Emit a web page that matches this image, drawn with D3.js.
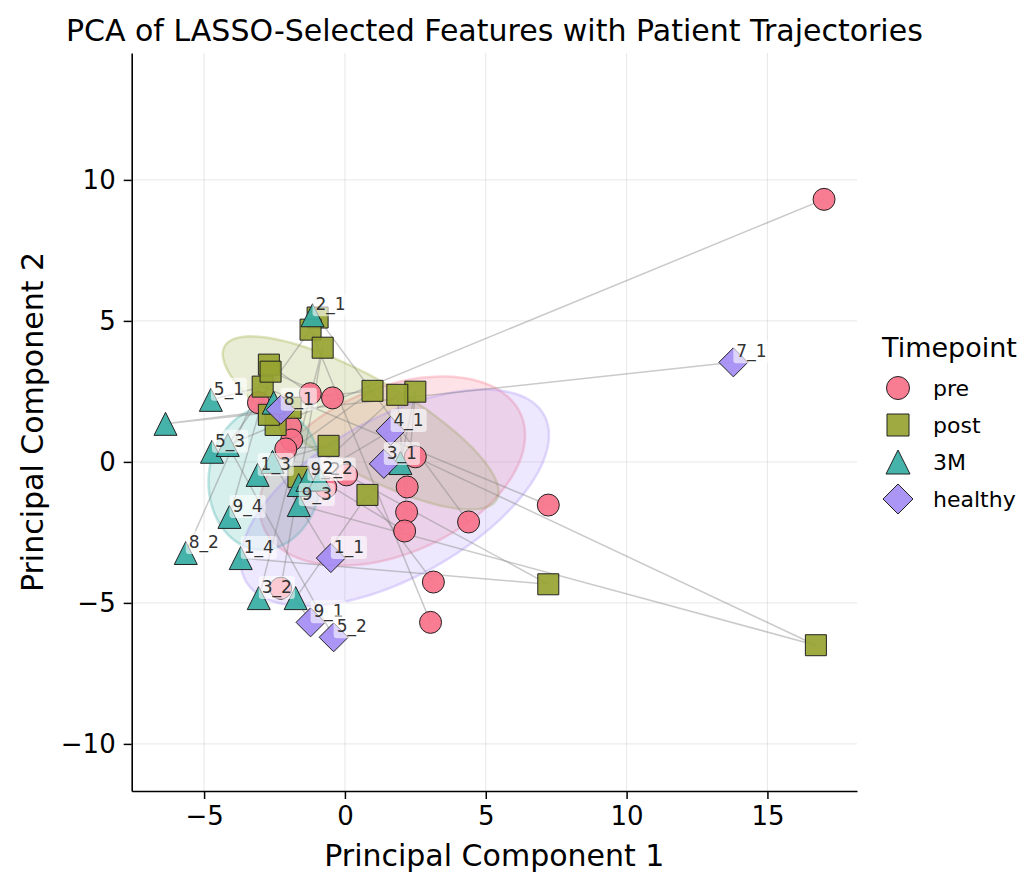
<!DOCTYPE html>
<html>
<head>
<meta charset="utf-8">
<script src="https://cdn.jsdelivr.net/npm/d3@7"></script>
<style>
  html, body { margin: 0; padding: 0; background: #fff; }
  svg { display: block; font-family: "DejaVu Sans", sans-serif; }
</style>
</head>
<body>
<svg id="chart" width="1033" height="872"></svg>
<script>
// ---------------- data ----------------
const timepoints = ["pre", "post", "3M", "healthy"];
const colors = ["#f77189", "#97a431", "#36ada4", "#a48cf4"];

const preIds = ["5_3","1_4","9_3","5_1","2_1","9_1","5_2","3_2","8_2","9_4","1_3","7_1","8_1","1_1","9_2","3_1","4_1","2_2"];
const prePC1 = [17.01, 0.06, 2.5, 7.22, 4.39, 3.14, 3.04, -2.28, -1.23, -0.44, -3.07, -1.93, -1.89, -2.10, -0.68, 2.21, 2.19, 2.12];
const prePC2 = [9.31, -0.46, 0.18, -1.53, -2.13, -4.26, -5.69, -4.48, 2.42, 2.27, 2.1, 1.24, 0.78, 0.46, -0.9, -0.89, -1.78, -2.45];

const postIds = ["5_3","1_4","9_3","5_1","2_1","9_1","5_2","3_2","8_2","9_4","1_3","7_1","8_1","1_1","9_2","3_1","4_1"];
const postPC1 = [-2.46, 7.22, 16.72, -2.92, -0.97, 0.8, -1.22, -0.79, -2.7, -2.64, 0.98, -1.93, -2.7, -0.58, -1.65, 2.5, 1.86];
const postPC2 = [1.31, -4.34, -6.5, 2.67, 5.12, -1.17, 4.69, 4.05, 3.45, 3.2, 2.52, 1.92, 1.67, 0.57, -0.53, 2.49, 2.38];

const m3Ids = ["5_3","1_4","9_3","5_1","2_1","9_1","5_2","3_2","8_2","9_4","1_3","7_1","8_1","1_1","4_1","3_1","9_2","2_2"];
const m3PC1 = [-4.72, -3.7, -1.64, -4.76, -1.15, -1.75, -4.16, -3.06, -5.65, -4.1, -3.1, -6.37, -2.53, -2.57, -1.64, 1.97, -1.33, -0.9];
const m3PC2 = [0.36, -3.41, -1.53, 2.2, 5.2, -4.83, 0.6, -4.83, -3.23, -1.95, -0.46, 1.35, 2.1, 0.0, -0.82, -0.04, -0.64, -0.62];

const healthyIds = ["7_1","4_1","3_1","1_1","9_1","5_2","8_1"];
const healthyPC1 = [13.79, 1.62, 1.38, -0.5, -1.22, -0.4, -2.28];
const healthyPC2 = [3.53, 1.1, -0.07, -3.41, -5.69, -6.22, 1.85];

const xTicks = [-5, 0, 5, 10, 15];
const yTicks = [-10, -5, 0, 5, 10];

// ---------------- setup ----------------
const groups = [
  {tp: "pre", ids: preIds, x: prePC1, y: prePC2},
  {tp: "post", ids: postIds, x: postPC1, y: postPC2},
  {tp: "3M", ids: m3Ids, x: m3PC1, y: m3PC2},
  {tp: "healthy", ids: healthyIds, x: healthyPC1, y: healthyPC2}
];
const color = d3.scaleOrdinal().domain(timepoints).range(colors);

const svg = d3.select("#chart");
const L = 131.7, R = 857, T = 53, B = 791;
const x = d3.scaleLinear().domain([-7.57, 18.18]).range([L, R]);
const y = d3.scaleLinear().domain([-11.67, 14.5]).range([B, T]);

// title
svg.append("text").attr("x", (L + R) / 2).attr("y", 41).attr("text-anchor", "middle")
  .attr("font-size", 30).attr("fill", "#000")
  .text("PCA of LASSO-Selected Features with Patient Trajectories");

// grid
const grid = svg.append("g");
grid.selectAll(".gx").data(xTicks).join("line")
  .attr("x1", d => x(d)).attr("x2", d => x(d)).attr("y1", T).attr("y2", B)
  .attr("stroke", "#b0b0b0").attr("stroke-opacity", 0.3).attr("stroke-width", 1);
grid.selectAll(".gy").data(yTicks).join("line")
  .attr("y1", d => y(d)).attr("y2", d => y(d)).attr("x1", L).attr("x2", R)
  .attr("stroke", "#b0b0b0").attr("stroke-opacity", 0.3).attr("stroke-width", 1);

// ellipses (1 std covariance ellipse)
function ellipsePts(xs, ys, nstd) {
  const n = xs.length;
  const mx = d3.mean(xs), my = d3.mean(ys);
  let sxx = 0, syy = 0, sxy = 0;
  for (let i = 0; i < n; i++) {
    sxx += (xs[i] - mx) ** 2; syy += (ys[i] - my) ** 2; sxy += (xs[i] - mx) * (ys[i] - my);
  }
  sxx /= (n - 1); syy /= (n - 1); sxy /= (n - 1);
  const tr = sxx + syy, det = sxx * syy - sxy * sxy;
  const disc = Math.sqrt(Math.max(0, tr * tr / 4 - det));
  const l1 = tr / 2 + disc, l2 = tr / 2 - disc;
  let vx, vy;
  if (Math.abs(sxy) > 1e-12) { vx = l1 - syy; vy = sxy; } else { vx = sxx >= syy ? 1 : 0; vy = sxx >= syy ? 0 : 1; }
  const vn = Math.hypot(vx, vy); vx /= vn; vy /= vn;
  const a = nstd * Math.sqrt(l1), b = nstd * Math.sqrt(Math.max(l2, 0));
  const pts = [];
  for (let k = 0; k < 120; k++) {
    const t = 2 * Math.PI * k / 120;
    const u = a * Math.cos(t), v = b * Math.sin(t);
    pts.push([mx + u * vx - v * vy, my + u * vy + v * vx]);
  }
  return pts;
}
const ell = svg.append("g");
groups.forEach(g => {
  const pts = ellipsePts(g.x, g.y, 1).map(p => [x(p[0]), y(p[1])]);
  ell.append("path")
    .attr("d", d3.line().curve(d3.curveLinearClosed)(pts))
    .attr("fill", color(g.tp)).attr("fill-opacity", 0.2)
    .attr("stroke", color(g.tp)).attr("stroke-opacity", 0.3).attr("stroke-width", 2.5);
});

// trajectories
const bySubject = new Map();
groups.forEach((g, gi) => {
  g.ids.forEach((id, i) => {
    if (!bySubject.has(id)) bySubject.set(id, []);
    bySubject.get(id).push({gi, x: g.x[i], y: g.y[i]});
  });
});
const traj = svg.append("g");
bySubject.forEach(pts => {
  pts.sort((a, b) => a.gi - b.gi);
  traj.append("path")
    .attr("d", d3.line().x(p => x(p.x)).y(p => y(p.y))(pts))
    .attr("fill", "none").attr("stroke", "#808080").attr("stroke-opacity", 0.42).attr("stroke-width", 1.5);
});

// markers
function shapePath(tp, s) {
  if (tp === "pre") {
    return `M${s},0A${s},${s} 0 1,1 ${-s},0A${s},${s} 0 1,1 ${s},0Z`;
  } else if (tp === "post") {
    return `M${-s},${-s}L${s},${-s}L${s},${s}L${-s},${s}Z`;
  } else if (tp === "3M") {
    return `M0,${-s}L${s},${s}L${-s},${s}Z`;
  } else {
    return `M0,${-s}L${s},0L0,${s}L${-s},0Z`;
  }
}
const sizes = {pre: 11, post: 10.5, "3M": 11.5, healthy: 14.5};
const marks = svg.append("g");
groups.forEach(g => {
  marks.selectAll(null).data(g.ids.map((id, i) => ({id, px: g.x[i], py: g.y[i]}))).join("path")
    .attr("transform", d => `translate(${x(d.px)},${y(d.py)})`)
    .attr("d", shapePath(g.tp, sizes[g.tp]))
    .attr("fill", color(g.tp)).attr("fill-opacity", 0.92)
    .attr("stroke", "#222").attr("stroke-width", 1);
});

// labels at the last point of each subject
const labs = svg.append("g");
bySubject.forEach((pts, id) => {
  const last = pts[pts.length - 1];
  if (last.gi < 2) return;
  const gL = labs.append("g");
  const t = gL.append("text").attr("x", x(last.x) + 3).attr("y", y(last.y) - 5)
    .attr("font-size", 17).attr("fill", "#333").text(id);
  const bb = t.node().getBBox();
  gL.insert("rect", "text").attr("x", bb.x - 3).attr("y", bb.y - 1)
    .attr("width", bb.width + 6).attr("height", bb.height + 2).attr("rx", 3)
    .attr("fill", "#fff").attr("fill-opacity", 0.6);
});

// axes
const xAxis = svg.append("g").attr("transform", `translate(0,${B})`)
  .call(d3.axisBottom(x).tickValues(xTicks).tickSize(8).tickSizeOuter(0).tickPadding(8));
const yAxis = svg.append("g").attr("transform", `translate(${L},0)`)
  .call(d3.axisLeft(y).tickValues(yTicks).tickSize(8).tickSizeOuter(0).tickPadding(8));
[xAxis, yAxis].forEach(a => {
  a.select(".domain").attr("stroke", "#000").attr("stroke-width", 1.6);
  a.selectAll(".tick line").attr("stroke", "#000").attr("stroke-width", 1.5);
  a.selectAll(".tick text").attr("font-size", 26).attr("fill", "#000")
    .attr("font-family", "DejaVu Sans, sans-serif");
});

svg.append("text").attr("x", (L + R) / 2).attr("y", 866).attr("text-anchor", "middle")
  .attr("font-size", 30).attr("fill", "#000").text("Principal Component 1");
svg.append("text").attr("transform", `translate(43,${(T + B) / 2}) rotate(-90)`)
  .attr("text-anchor", "middle").attr("font-size", 30).attr("fill", "#000")
  .text("Principal Component 2");

// legend
const leg = svg.append("g");
leg.append("text").attr("x", 882).attr("y", 357).attr("font-size", 27).attr("fill", "#000").text("Timepoint");
const legSizes = {pre: 11.5, post: 11, "3M": 12, healthy: 15};
timepoints.forEach((tp, i) => {
  const cy = 388 + i * 37;
  leg.append("path").attr("transform", `translate(898,${cy})`)
    .attr("d", shapePath(tp, legSizes[tp]))
    .attr("fill", color(tp)).attr("fill-opacity", 0.92)
    .attr("stroke", "#222").attr("stroke-width", 1);
  leg.append("text").attr("x", 933).attr("y", cy).attr("dy", "0.35em")
    .attr("font-size", 22).attr("fill", "#000").text(tp);
});
</script>
</body>
</html>
